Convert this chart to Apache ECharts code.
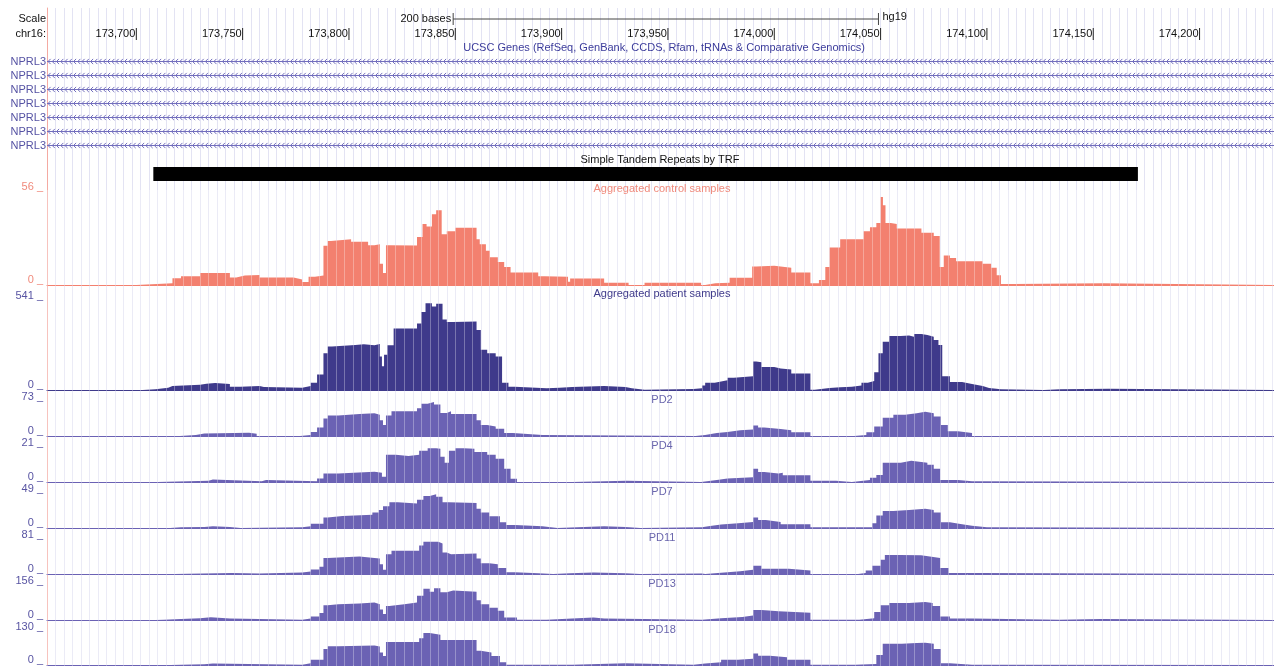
<!DOCTYPE html>
<html><head><meta charset="utf-8">
<script src="https://cdn.jsdelivr.net/npm/echarts@6/dist/echarts.min.js"></script>
<style>html,body{margin:0;padding:0;background:#fff}#c{width:1274px;height:666px}</style>
</head><body><div id="c"></div>
<script>
// ---------- data ----------
const X_MIN = 173658, X_MAX = 174235;
const chromName = 'chr16:';
const assembly = 'hg19';
const rulerTicks = [173700, 173750, 173800, 173850, 173900, 173950, 174000, 174050, 174100, 174150, 174200];
const scaleBar = [173849, 174049];
const geneNames = ['NPRL3', 'NPRL3', 'NPRL3', 'NPRL3', 'NPRL3', 'NPRL3', 'NPRL3'];
const geneStarts = [173500, 173500, 173500, 173500, 173500, 173500, 173500];
const geneEnds = [174300, 174300, 174300, 174300, 174300, 174300, 174300];
const geneTrackTitle = 'UCSC Genes (RefSeq, GenBank, CCDS, Rfam, tRNAs & Comparative Genomics)';
const trfTitle = 'Simple Tandem Repeats by TRF';
const trfIntervals = [[173708, 174171]];

const trackNames = ['Aggregated control samples', 'Aggregated patient samples', 'PD2', 'PD4', 'PD7', 'PD11', 'PD13', 'PD18'];
const trackMax = [56, 541, 73, 21, 49, 81, 156, 130];

const control = [[173658,0],[173700,1],[173717,4],[173721,5.3],[173730,7.3],[173744,4.5],[173747,5.7],[173751,6],[173758,4.5],[173774,3.3],[173778,1.8],[173781,5],[173784,5.7],[173788,23.6],[173790,26.5],[173791.5,27.5],[173801,26],[173809,24],[173812,24.5],[173814.5,12.8],[173816,7.3],[173817.4,24],[173819,23.8],[173832,28.9],[173834.6,36.7],[173836.5,35.2],[173839,42.6],[173841,45],[173843.6,30.5],[173846,32.4],[173850,34.4],[173860,27.5],[173861.5,24.6],[173864.4,20.6],[173866.3,16.7],[173870,13.8],[173873,10.8],[173876,7.5],[173889,5.3],[173892,4.9],[173903,2],[173904,3.9],[173920,1.4],[173931.5,0],[173939,1.4],[173965.6,0],[173967.5,1],[173972.3,1.4],[173979,4.3],[173989.6,11.2],[173991.5,11.6],[174000,10.4],[174008,7.5],[174017,1],[174021,3],[174024,10.8],[174026,22.6],[174031,27.5],[174042,32.4],[174045,34.8],[174048,37.3],[174050,53],[174051.1,48],[174052.3,37.3],[174054.8,36.7],[174057.6,34],[174069.2,31.4],[174075,29.5],[174077.8,10.8],[174079.7,17.7],[174082.6,16.3],[174085.5,14.3],[174098,12.8],[174102,10.4],[174104.6,5.9],[174106.6,0.6],[174112.3,1],[174154.5,0],[174235,0]];

const patient = [[173658,0],[173703,4],[173709,14],[173715,24],[173717,32],[173730,38],[173733,42],[173737,36],[173744,20],[173749,24],[173758,18],[173760,14],[173778,24],[173782,44],[173785,94],[173788,224],[173790,264],[173792,274],[173803,278],[173807,272],[173812,280],[173814.5,204],[173815.5,144],[173816.5,214],[173818,272],[173821,374],[173832,404],[173834,474],[173836,528],[173839,508],[173841,524],[173844,428],[173846,414],[173849,416],[173860,364],[173862,244],[173865,224],[173869,204],[173872,44],[173875,20],[173878,10],[173893,14],[173899,18],[173905,24],[173920,18],[173930,10],[173933,2],[173939,6],[173962,10],[173966,28],[173967.5,44],[173972,52],[173975,60],[173978,74],[173981,84],[173990,174],[173991.5,168],[173994,140],[174000,130],[174003,124],[174008,100],[174017,2],[174019,12],[174026,16],[174031,20],[174036.5,28],[174041,44],[174044,54],[174047,108],[174049,224],[174051,294],[174054,328],[174059.5,332],[174063.4,324],[174065.7,340],[174069.2,334],[174072,324],[174075,304],[174077.2,274],[174079,84],[174082.6,48],[174088.3,36],[174093,24],[174098,12],[174101,4],[174106.6,0],[174126.7,4],[174134.4,8],[174157.4,0],[174235,0]];

const pd2 = [[173658,0],[173720.5,2.4],[173728,5.5],[173732,7],[173753,4.7],[173756.6,0],[173777,2.4],[173782,8.6],[173785,18],[173788,37.7],[173790,44],[173795,47],[173805,48.7],[173812,45.5],[173814.5,33.8],[173816,23.5],[173817.4,44],[173820,53.4],[173832,59.7],[173834,69],[173837,73],[173840,67.5],[173843,49.5],[173846,53.4],[173848,47],[173860,33.8],[173862,23.5],[173865,20.4],[173869,15.7],[173873,6.3],[173877,2.4],[173891,0],[173963,2.4],[173967.5,6.3],[173973,8.6],[173978,12.6],[173984,14],[173990,22.8],[173992.4,18],[173995.3,15],[174003,12.6],[174008,7.9],[174017,0],[174037.5,2.4],[174043.3,7.9],[174047,20.4],[174051,39.3],[174056,45.5],[174061.5,48.7],[174067,51.8],[174071,48.7],[174075,41.6],[174078.4,23.5],[174081.6,10.2],[174086.4,6.3],[174093,0],[174235,0]];

const pd4 = [[173658,0],[173710,0.7],[173734,1.5],[173736,0.5],[173759,1.2],[173761,0.5],[173785,2.2],[173788,5.2],[173795,6.4],[173812,5.7],[173815.5,3.2],[173817.4,16.8],[173822,16],[173828,16.8],[173833,19.3],[173837,20.8],[173841,20.5],[173843,15.6],[173845,11.9],[173847,19.3],[173850,20.8],[173854,20.5],[173859,18.5],[173865,16.8],[173869,14.3],[173873,8.2],[173876,2],[173879,0],[173905,0.7],[173930.5,0],[173965.6,1.2],[173973,2.2],[173978,3],[173990,8.2],[173992.4,6.2],[173995.3,5.2],[174002,5.7],[174004,4.2],[174017,0.7],[174029,0],[174036.5,1.2],[174045,2.7],[174048,4.4],[174051,11.9],[174059.5,13.1],[174064.4,11.9],[174072,10.6],[174075,8.2],[174078,1.2],[174086.4,0.5],[174093,0],[174235,0]];

const pd7 = [[173658,0],[173716,1],[173721,1.6],[173732,2.7],[173736,1.6],[173744,0],[173749,1],[173778,2.7],[173782,6],[173788,15.2],[173790,17.4],[173797,19],[173811,22.3],[173814,26],[173816,31.5],[173819,37],[173823,35.4],[173832,40.8],[173835,46.2],[173838,48.5],[173841,45],[173844,37],[173847,35.9],[173860,27.7],[173862,22.3],[173866,16.9],[173871,8.2],[173874,4.4],[173878,2.7],[173891,0],[173898,2.7],[173920,1.6],[173930,0],[173937,1],[173966,2.7],[173969,4.9],[173975,7],[173983,8.7],[173990,15.2],[173992.4,11.4],[173996,8.7],[174003,5.4],[174017,1],[174046,7],[174048,18],[174051,24.5],[174056,26],[174063.4,27.7],[174071,26],[174075,22.3],[174078.4,8.2],[174082.6,5.4],[174088.3,3.3],[174093,1],[174100,0],[174235,0]];

const pd11 = [[173658,0],[173718,2.6],[173745,0.9],[173758,3.4],[173778,6],[173782,11],[173786,17],[173788,38.4],[173790,41.8],[173805,38.4],[173812,36.7],[173814.5,23],[173816,10.2],[173817.4,47],[173820,55.4],[173833,68],[173835,76.8],[173842,72.5],[173844,51.2],[173846,47],[173848,48.6],[173860,36.7],[173862,25.6],[173866,23],[173870,14.5],[173874,4.3],[173878,1.7],[173889,0],[173896,1.7],[173904,3.4],[173915,1.7],[173930,0],[173937,0.9],[173966,0],[173967.5,4.3],[173978,6.8],[173984,10.2],[173990,19.6],[173994,12.8],[174006.8,8.5],[174017,0],[174039.4,2.6],[174043,8.5],[174046,19.6],[174050,34],[174052,45.2],[174059,44.4],[174069,41],[174074,38.4],[174078,14.5],[174082,2.6],[174096,0],[174235,0]];

const pd13 = [[173658,0],[173709,1.6],[173713,4.8],[173721,8],[173730,12.7],[173735,6.4],[173744,1.6],[173778,6.4],[173782,16],[173786,32],[173788,68],[173790,72],[173795,76],[173805,80],[173812,72],[173814.5,48],[173816,27],[173817.4,64],[173819,72],[173826,80],[173832,111],[173835,143],[173838,130],[173840,146],[173843,127],[173846,135],[173849,130],[173860,91],[173862,72],[173866,56],[173870,43],[173873,11],[173879,1.6],[173893,6.4],[173905,11],[173915,6.4],[173920,1.6],[173966,8],[173975,14],[173985,21],[173990,46],[173994,40],[174002,33],[174017,1.6],[174040,8],[174047,37],[174050,68],[174054,78],[174063.4,83],[174071,78],[174074.5,64],[174078,16],[174082.6,6.4],[174093,1.6],[174134,4.8],[174153.5,1.6],[174235,1.6]];

const pd18 = [[173658,0],[173716,2.8],[173732,5.6],[173736,1.4],[173778,7],[173782,21],[173788,63],[173790,74],[173795,77],[173812,73],[173814.5,49],[173816,35],[173817.4,91],[173833,105],[173835,126],[173838,119],[173843,98],[173860,56],[173862,49],[173867,35],[173871,11],[173874,1.4],[173905,7],[173930,1.4],[173962,5.6],[173967.5,11],[173975,21],[173983,25],[173990,45],[173992.4,36],[173998,31],[174006,21],[174017,1.4],[174038,4.2],[174048,39],[174051,84],[174060,87],[174067,88],[174071,84],[174075,63],[174078.4,7],[174082.6,1.4],[174093,0],[174235,0]];

const trackData = [control, patient, pd2, pd4, pd7, pd11, pd13, pd18];

// ---------- styles / layout ----------
const FONT_FAMILY = '"Liberation Sans Narrow", "Liberation Sans", Arial, sans-serif';
const FS = 11;
const FONT = FS + 'px ' + FONT_FAMILY;
const LEFT = 47;
const trackLayout = [[192, 93], [301, 89], [402, 34], [448, 34], [494, 34], [540, 34], [586, 34], [632, 33]];
const trackFill = ['#f3806f', '#3f3a8b', '#6b62b4', '#6b62b4', '#6b62b4', '#6b62b4', '#6b62b4', '#6b62b4'];
const trackTextColor = ['#f08a7c', '#3f3a8b', '#6a66ad', '#6a66ad', '#6a66ad', '#6a66ad', '#6a66ad', '#6a66ad'];
const labelColor = ['#f08a7c', '#5753a2', '#5753a2', '#5753a2', '#5753a2', '#5753a2', '#5753a2', '#5753a2'];
const GENE_C = '#726ebd';

const grids = [], xAxes = [], yAxes = [], series = [];
function hiddenX(gi, extra) {
  return Object.assign({ type: 'value', gridIndex: gi, min: X_MIN, max: X_MAX,
    axisLine: { show: false }, axisTick: { show: false }, axisLabel: { show: false }, splitLine: { show: false } }, extra || {});
}
function hiddenY(gi, extra) {
  return Object.assign({ type: 'value', gridIndex: gi, min: 0, max: 1,
    axisLine: { show: false }, axisTick: { show: false }, axisLabel: { show: false }, splitLine: { show: false } }, extra || {});
}

// 0: background guidelines
grids.push({ left: LEFT, right: 0, top: 8, bottom: 0 });
xAxes.push(hiddenX(0, { interval: 4, splitLine: { show: true, lineStyle: { color: '#e3e3f3', width: 1 } } }));
yAxes.push(hiddenY(0, { axisLine: { show: true, lineStyle: { color: '#f4aaa2', width: 1 } } }));

// 1: ruler
grids.push({ left: LEFT, right: 0, top: 28, height: 12 });
xAxes.push(hiddenX(1)); yAxes.push(hiddenY(1));
series.push({
  type: 'custom', xAxisIndex: 1, yAxisIndex: 1, clip: false, silent: true, z: 20,
  data: rulerTicks.map(v => [v]),
  renderItem(params, api) {
    const v = api.value(0);
    const b = api.coord([v, 0]), t = api.coord([v, 1]);
    return { type: 'group', children: [
      { type: 'line', shape: { x1: b[0], y1: t[1], x2: b[0], y2: b[1] }, style: { stroke: '#222', lineWidth: 1 } },
      { type: 'text', x: b[0] - 1, y: (t[1] + b[1]) / 2, style: { text: v.toLocaleString('en-US'), align: 'right', verticalAlign: 'middle', fill: '#111', font: FONT } }
    ] };
  }
});

// 2: scale bar
grids.push({ left: LEFT, right: 0, top: 13, height: 12 });
xAxes.push(hiddenX(2)); yAxes.push(hiddenY(2));
series.push({
  type: 'custom', xAxisIndex: 2, yAxisIndex: 2, clip: false, silent: true, z: 20,
  data: [scaleBar],
  renderItem(params, api) {
    const s = api.value(0), e = api.value(1);
    const p0 = api.coord([s, 0]), p1 = api.coord([e, 0]), t = api.coord([s, 1]);
    const ym = (p0[1] + t[1]) / 2;
    const st = { stroke: '#444', lineWidth: 1 };
    return { type: 'group', children: [
      { type: 'line', shape: { x1: p0[0], y1: ym, x2: p1[0], y2: ym }, style: st },
      { type: 'line', shape: { x1: p0[0], y1: t[1], x2: p0[0], y2: p0[1] }, style: st },
      { type: 'line', shape: { x1: p1[0], y1: t[1], x2: p1[0], y2: p1[1] }, style: st },
      { type: 'text', x: p0[0] - 2, y: ym, style: { text: (e - s) + ' bases', align: 'right', verticalAlign: 'middle', fill: '#111', font: FONT } },
      { type: 'text', x: p1[0] + 4, y: ym - 2, style: { text: assembly, align: 'left', verticalAlign: 'middle', fill: '#111', font: FONT } }
    ] };
  }
});

// 3: genes
grids.push({ left: LEFT, right: 0, top: 54, height: 98 });
xAxes.push(hiddenX(3));
yAxes.push(hiddenY(3, { min: -0.5, max: geneNames.length - 0.5, inverse: true }));
series.push({
  type: 'custom', xAxisIndex: 3, yAxisIndex: 3, clip: false, silent: true, z: 20,
  data: geneNames.map((n, i) => [geneStarts[i], geneEnds[i], i]),
  renderItem(params, api) {
    const s = Math.max(api.value(0), X_MIN), e = Math.min(api.value(1), X_MAX), row = api.value(2);
    const p0 = api.coord([s, row]), p1 = api.coord([e, row]);
    const y = p0[1] + 0.5;
    const st = { stroke: GENE_C, lineWidth: 1, fill: null };
    const ch = [{ type: 'line', shape: { x1: p0[0], y1: y, x2: p1[0], y2: y }, style: st }];
    const step = api.size([2, 0])[0];
    for (let x = p0[0] + 2; x < p1[0] - 1; x += step) {
      ch.push({ type: 'polyline', shape: { points: [[x + 1.6, y - 2.6], [x - 1, y], [x + 1.6, y + 2.6]] }, style: st });
    }
    ch.push({ type: 'text', x: LEFT - 1, y: y, style: { text: geneNames[params.dataIndex], align: 'right', verticalAlign: 'middle', fill: '#5552a3', font: FONT } });
    return { type: 'group', children: ch };
  }
});

// 4: TRF
grids.push({ left: LEFT, right: 0, top: 167, height: 14 });
xAxes.push(hiddenX(4)); yAxes.push(hiddenY(4));
series.push({
  type: 'custom', xAxisIndex: 4, yAxisIndex: 4, clip: false, silent: true, z: 20,
  data: trfIntervals,
  renderItem(params, api) {
    const p0 = api.coord([api.value(0), 0]), p1 = api.coord([api.value(1), 1]);
    return { type: 'rect', shape: { x: p0[0], y: p1[1], width: p1[0] - p0[0], height: p0[1] - p1[1] }, style: { fill: '#000' } };
  }
});

// data tracks
trackData.forEach((d, k) => {
  const gi = grids.length;
  const [top, h] = trackLayout[k];
  grids.push({ left: LEFT, right: 0, top: top, height: h });
  xAxes.push(hiddenX(gi, { axisLine: { show: true, onZero: true, lineStyle: { color: trackFill[k], width: 1 } } }));
  yAxes.push({ type: 'value', gridIndex: gi, min: 0, max: trackMax[k], interval: trackMax[k],
    axisLine: { show: false }, axisTick: { show: false }, splitLine: { show: false },
    axisLabel: { show: true, margin: 4, formatter: v => v + ' _', color: labelColor[k], fontSize: FS, fontFamily: FONT_FAMILY, verticalAlign: 'bottom', showMinLabel: true, showMaxLabel: true } });
  series.push({
    type: 'line', xAxisIndex: gi, yAxisIndex: gi, step: 'end', symbol: 'none', silent: true,
    data: d, lineStyle: { width: 0 }, areaStyle: { color: trackFill[k], opacity: 1 }, animation: false
  });
});

// foreground guideline overlay (lightens bars)
const fg = grids.length;
grids.push({ left: LEFT, right: 0, top: 190, bottom: 0 });
xAxes.push(hiddenX(fg, { z: 10, interval: 4, splitLine: { show: true, lineStyle: { color: 'rgba(255,255,255,0.3)', width: 1 } } }));
yAxes.push(hiddenY(fg));

// texts
const graphic = [
  { type: 'text', x: 46, y: 19, z: 100, style: { text: 'Scale', align: 'right', verticalAlign: 'middle', fill: '#111', font: FONT } },
  { type: 'text', x: 46, y: 34, z: 100, style: { text: chromName, align: 'right', verticalAlign: 'middle', fill: '#111', font: FONT } },
  { type: 'text', x: 664, y: 48, z: 100, style: { text: geneTrackTitle, align: 'center', verticalAlign: 'middle', fill: '#3b3b9b', font: FONT } },
  { type: 'text', x: 660, y: 160, z: 100, style: { text: trfTitle, align: 'center', verticalAlign: 'middle', fill: '#111', font: FONT } }
];
trackNames.forEach((n, k) => {
  const y = k === 0 ? 189 : (k === 1 ? 294 : trackLayout[k][0] - 2);
  graphic.push({ type: 'text', x: 662, y: y, z: 100, style: { text: n, align: 'center', verticalAlign: 'middle', fill: trackTextColor[k], font: FONT } });
});

const chart = echarts.init(document.getElementById('c'), null, { renderer: 'canvas' });
chart.setOption({
  animation: false,
  backgroundColor: '#fff',
  grid: grids, xAxis: xAxes, yAxis: yAxes, series: series, graphic: graphic
});
</script></body></html>
